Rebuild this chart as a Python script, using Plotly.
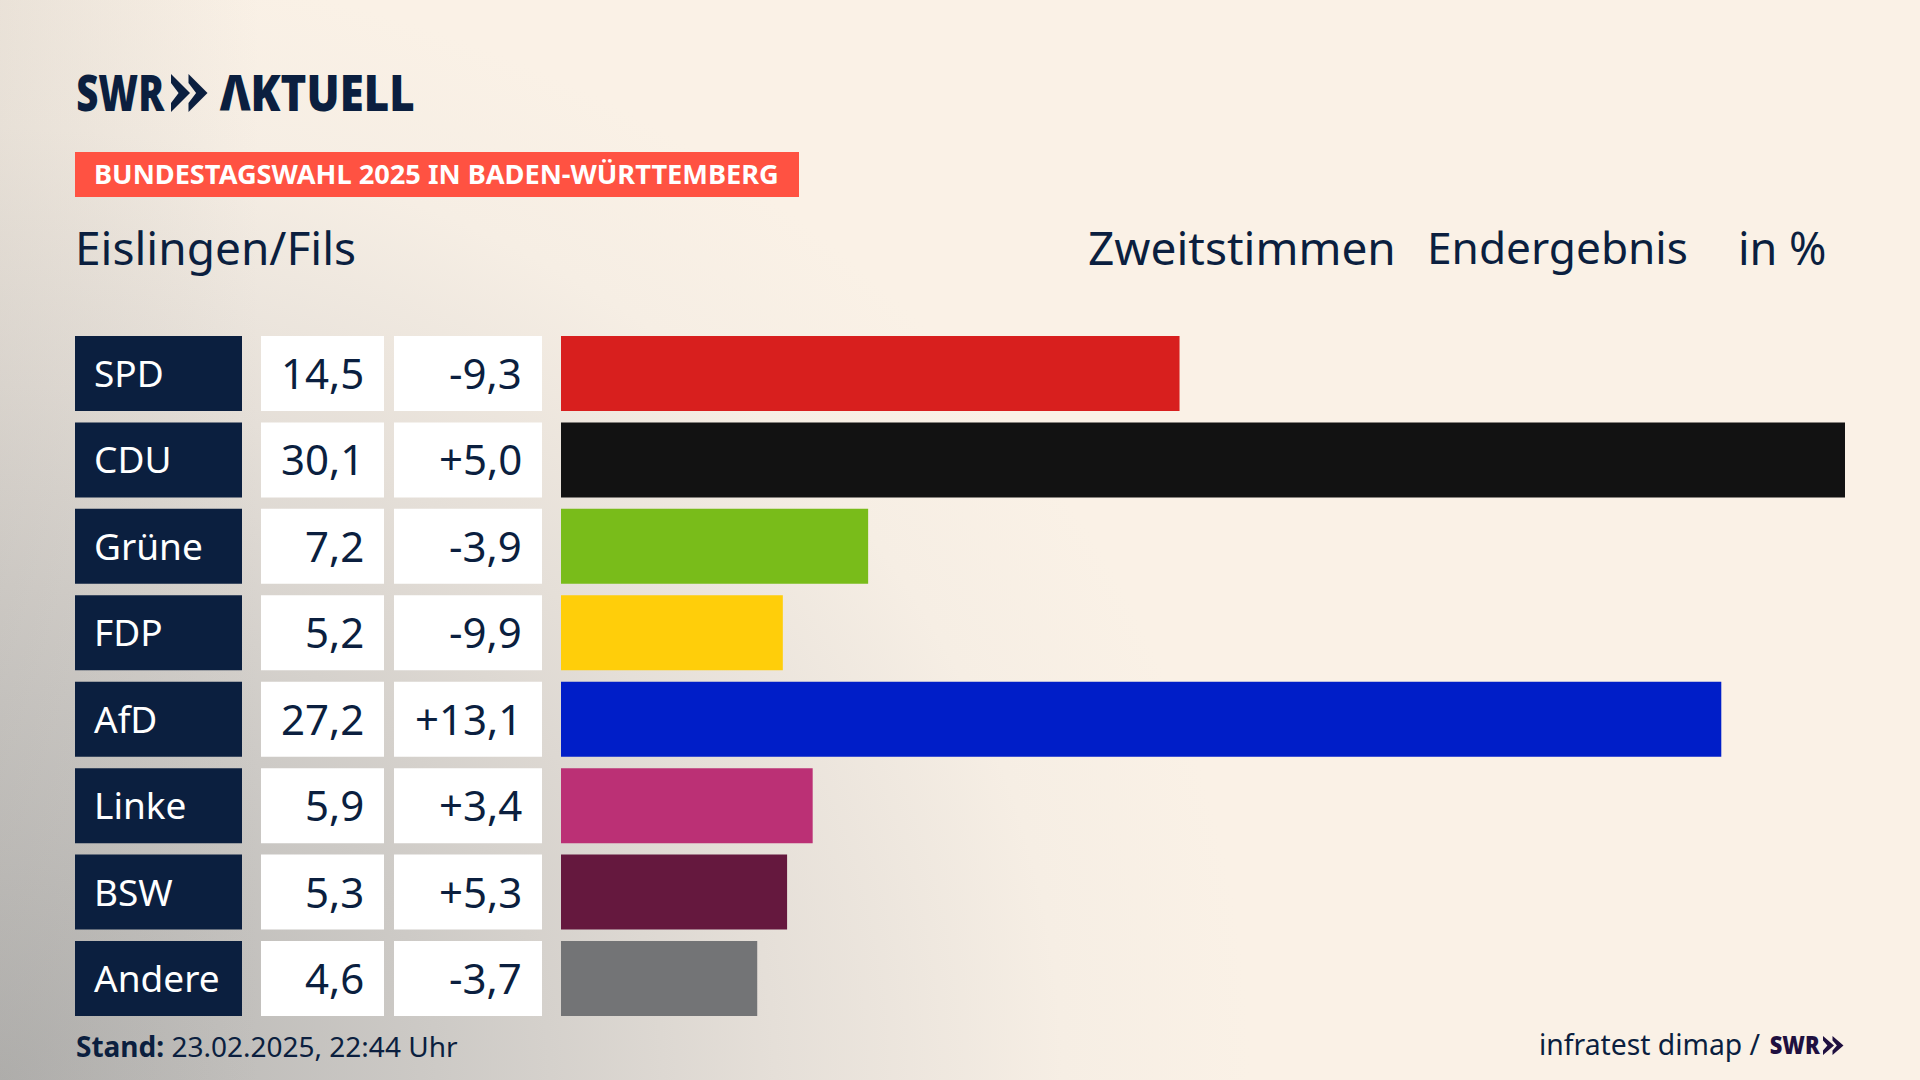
import base64
import plotly.graph_objects as go

parties = ["SPD", "CDU", "Grüne", "FDP", "AfD", "Linke", "BSW", "Andere"]
results = [14.5, 30.1, 7.2, 5.2, 27.2, 5.9, 5.3, 4.6]
changes = [-9.3, 5.0, -3.9, -9.9, 13.1, 3.4, 5.3, -3.7]
bar_colors = ["#D81F1E", "#121212", "#79BC1A", "#FFCE0A", "#001EC8", "#BB3075", "#65183E", "#737476"]

W, H = 1920, 1080
NAVY = "#0B1F3F"
FONT = "Noto Sans"


def fmt(v, sign=False):
    s = f"{v:+.1f}" if sign else f"{v:.1f}"
    return s.replace(".", ",")


def px(x):
    return x / W


def py(y):
    return 1 - y / H


def chevrons(x0, y0, w, h, step, fill):
    # zwei Pfeile wie im SWR Logo, Angaben in Pixel
    out = []
    for i in range(2):
        left = x0 + i * step
        pts = [(0, 0), (1, 0.5), (0, 1), (0, 0.76), (0.4, 0.5), (0, 0.24)]
        path = "M" + " L".join(f"{px(left + a * w)},{py(y0 + b * h)}" for a, b in pts) + " Z"
        out.append(dict(type="path", path=path, xref="paper", yref="paper", fillcolor=fill, line_width=0))
    return out


def label(x, y, text, size, color=NAVY, anchor="left", weight=None):
    return dict(
        text=text, x=px(x), y=py(y), xref="paper", yref="paper", xanchor=anchor, yanchor="middle",
        showarrow=False, font=dict(family=FONT, size=size, color=color, weight=weight),
    )


# Hintergrund: grauer Verlauf von unten links, dazu ein schmaler Schatten am linken Rand
svg = f"""<svg xmlns="http://www.w3.org/2000/svg" width="{W}" height="{H}">
<defs><radialGradient id="g" gradientUnits="userSpaceOnUse" cx="0" cy="0" r="1"
gradientTransform="translate(0 {H}) scale(1250 1120)">
<stop offset="0" stop-color="#B2B1AF"/><stop offset="0.35" stop-color="#CDCAC6"/>
<stop offset="0.62" stop-color="#E5DFD8"/><stop offset="0.85" stop-color="#F6EEE4"/>
<stop offset="1" stop-color="#FAF1E6"/></radialGradient>
<linearGradient id="e" x1="0" x2="1" y1="0" y2="0">
<stop offset="0" stop-color="#9A9792" stop-opacity="0.16"/>
<stop offset="1" stop-color="#9A9792" stop-opacity="0"/></linearGradient></defs>
<rect width="{W}" height="{H}" fill="url(#g)"/><rect width="260" height="{H}" fill="url(#e)"/></svg>"""
bg_src = "data:image/svg+xml;base64," + base64.b64encode(svg.encode()).decode()

fig = go.Figure()

# Spalten: Partei, Ergebnis, Differenz als Zellen, dann die eigentlichen Balken
cell_axes = [("x", NAVY), ("x2", "white"), ("x3", "white")]
for axis, color in cell_axes:
    fig.add_trace(go.Bar(y=parties, x=[1] * len(parties), xaxis=axis, yaxis="y", orientation="h",
                         marker=dict(color=color, line_width=0), hoverinfo="skip"))
fig.add_trace(go.Bar(y=parties, x=results, xaxis="x4", yaxis="y", orientation="h",
                     marker=dict(color=bar_colors, line_width=0), hoverinfo="skip"))

annotations = []
for p, r, c in zip(parties, results, changes):
    annotations.append(dict(text=p, x=0, y=p, xref="x", yref="y", xanchor="left", yanchor="middle",
                            xshift=16.5, yshift=1,
                            showarrow=False, font=dict(family=FONT, size=37, color="white")))
    annotations.append(dict(text=fmt(r), x=1, y=p, xref="x2", yref="y", xanchor="right", yanchor="middle",
                            xshift=-18, yshift=1,
                            showarrow=False, font=dict(family=FONT, size=42, color=NAVY)))
    annotations.append(dict(text=fmt(c, True), x=1, y=p, xref="x3", yref="y", xanchor="right", yanchor="middle",
                            xshift=-18, yshift=1,
                            showarrow=False, font=dict(family=FONT, size=42, color=NAVY)))

annotations += [
    label(120.5, 92, "SWR", 49, anchor="center", weight=900),
    label(317, 92, "ΛKTUELL", 49, anchor="center", weight=900),
    label(92, 173, "<b>BUNDESTAGSWAHL 2025 IN BADEN-WÜRTTEMBERG</b>", 27.2, color="white"),
    label(73, 247, "Eislingen/Fils", 46),
    label(1086, 247, "Zweitstimmen", 46),
    label(1425, 247, "Endergebnis", 44.2),
    label(1736, 247, "in %", 45),
    label(74, 1046, "<b>Stand:</b> 23.02.2025, 22:44 Uhr", 28),
    label(1537, 1044, "infratest dimap /", 28.3),
    label(1795, 1044, "SWR", 25, color="#1F1040", anchor="center", weight=900),
]

shapes = [dict(type="rect", xref="paper", yref="paper", x0=px(75), x1=px(799), y0=py(197), y1=py(152),
               fillcolor="#FF5242", line_width=0)]
shapes += chevrons(171, 74, 19, 38, 17.5, NAVY)
shapes += chevrons(1823, 1036, 11, 19, 9.5, "#1F1040")

hidden = dict(visible=False, fixedrange=True)
fig.update_layout(
    width=W, height=H, margin=dict(l=0, r=0, t=0, b=0), showlegend=False,
    paper_bgcolor="#FAF1E6", plot_bgcolor="rgba(0,0,0,0)",
    bargap=0.132,
    xaxis=dict(domain=[px(75), px(242)], range=[0, 1], anchor="y", **hidden),
    xaxis2=dict(domain=[px(261), px(384)], range=[0, 1], anchor="y", **hidden),
    xaxis3=dict(domain=[px(394), px(542)], range=[0, 1], anchor="y", **hidden),
    xaxis4=dict(domain=[px(561), px(1845)], range=[0, 30.1], anchor="y", **hidden),
    yaxis=dict(domain=[py(1021.7), py(330.3)], autorange="reversed", type="category",
               categoryorder="array", categoryarray=parties, **hidden),
    images=[dict(source=bg_src, xref="paper", yref="paper", x=0, y=1, sizex=1, sizey=1,
                 xanchor="left", yanchor="top", sizing="stretch", layer="below")],
    shapes=shapes,
    annotations=annotations,
)

# Logo-Schrift ist schmaler als Noto Sans, daher Text auf die Logobreite stauchen
squeeze = """
document.body.style.margin='0';document.body.style.overflow='hidden';
document.querySelectorAll('.annotation-text').forEach(function(t){
  var s=t.textContent, f=parseFloat(t.style.fontSize), w=0;
  if(s==='SWR'){w=f>40?88:50;}
  if(s==='ΛKTUELL'){w=195;}
  if(w){t.setAttribute('textLength',w);t.setAttribute('lengthAdjust','spacingAndGlyphs');}
});
"""
fig.write_html("out.html", config={"displayModeBar": False}, post_script=squeeze)
